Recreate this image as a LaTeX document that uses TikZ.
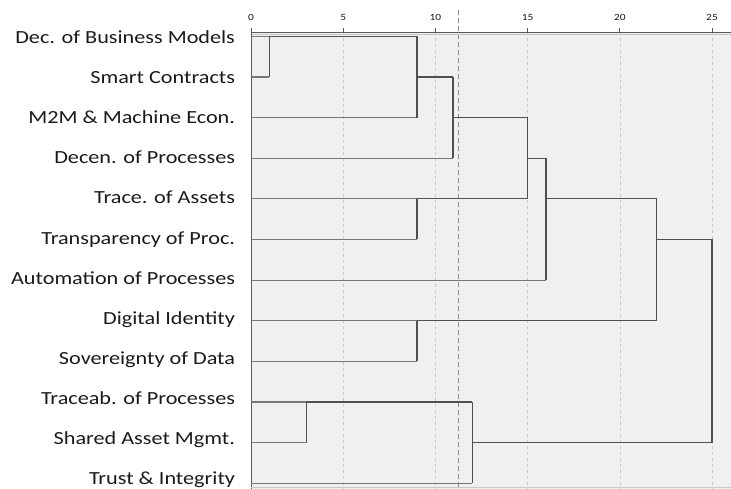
\documentclass[tikz,border=0pt]{standalone}
\usepackage{fontspec}
\setmainfont[FakeStretch=1.2]{Carlito}
\definecolor{plotbg}{HTML}{F0F0F0}
\definecolor{labeltext}{HTML}{1A1A1A}
\definecolor{leafgray}{HTML}{777777}
\definecolor{linkgray}{HTML}{505050}
\definecolor{gridgray}{HTML}{C8C8C8}
\definecolor{cutgray}{HTML}{8C8C8C}
\definecolor{axisgray}{HTML}{5A5A5A}
\begin{document}
\begin{tikzpicture}[
		x=1pt, y=-1pt,
		every node/.style={inner sep=0pt, outer sep=0pt},
		rowlabel/.style={anchor=base east, text=labeltext,
			font=\fontsize{18.5}{20}\selectfont},
		ticklabel/.style={anchor=base, text=labeltext,
			font=\fontsize{9.5}{10}\selectfont},
		leafline/.style={draw=leafgray, line width=1.2pt},
		linkline/.style={draw=linkgray, line width=1.2pt},
		gridline/.style={draw=gridgray, dashed, line width=0.5pt},
		cutline/.style={draw=cutgray, dash pattern=on 5pt off 3pt, line width=1.2pt},
		axisline/.style={draw=axisgray, line width=1pt}
		]
		\useasboundingbox (0,0) rectangle (731,489);
		\fill[plotbg] (251,32) rectangle (731,489);
		
		% row labels
		\foreach \i/\txt in {1/Dec. of Business Models, 2/Smart Contracts,
			3/M2M \& Machine Econ., 4/Decen. of Processes, 5/Trace. of Assets,
			6/Transparency of Proc., 7/Automation of Processes, 8/Digital Identity,
			9/Sovereignty of Data, 10/Traceab. of Processes, 11/Shared Asset Mgmt.,
			12/Trust \& Integrity}
		\node[rowlabel] (lbl\i) at (235,{43.3+40.15*(\i-1)}) {\txt};
		
		\begin{scope}[shift={(251,36.5)}, x=18.44pt, y=-40.6pt]
			% grid and cut
			\foreach \v in {5,10,...,25}
			\draw[gridline] (\v,-0.11) -- (\v,11.15);
			\draw[cutline] (11.25,-0.65) -- (11.25,11.15);
			
			% axis
			\draw[draw=gridgray, line width=0.8pt] (0,-0.06) -- (26.03,-0.06);
			\draw[axisline] (0,-0.11) -- (26.03,-0.11);
			\draw[axisline] (0,-0.11) -- (0,11.15);
			\draw[draw=gridgray, line width=0.8pt] (0,11.1) -- (26.03,11.1);
			\foreach \v in {0,5,...,25}{
				\draw[axisline, line width=0.7pt] (\v,-0.11) -- (\v,-0.21);
				\node[ticklabel] (tick\v) at (\v,-0.4) {\v};
			}
			
			% leaves
			\foreach \i/\m in {1/1, 2/1, 3/9, 4/10.95, 5/9, 6/9, 7/16,
				8/9, 9/9, 10/3, 11/3, 12/12}{
				\coordinate (leaf\i) at (0,\i-1);
				\draw[leafline] (leaf\i) -- (\m,\i-1);
			}
			
			% merges: height / top row / bottom row / out row / next height
			\foreach \h/\a/\b/\o/\n in {1/0/1/0/9, 9/0/2/1/10.95, 10.95/1/3/2/15,
				9/4/5/4/15, 15/2/4/3/16, 16/3/6/4/22, 9/7/8/7/22, 22/4/7/5/25,
				3/9/10/9/12, 12/9/11/10/25}{
				\draw[linkline] (\h,\a) -- (\h,\b);
				\draw[linkline] (\h,\o) -- (\n,\o);
			}
			\draw[linkline] (25,5) -- (25,10);
		\end{scope}
	\end{tikzpicture}
\end{document}
